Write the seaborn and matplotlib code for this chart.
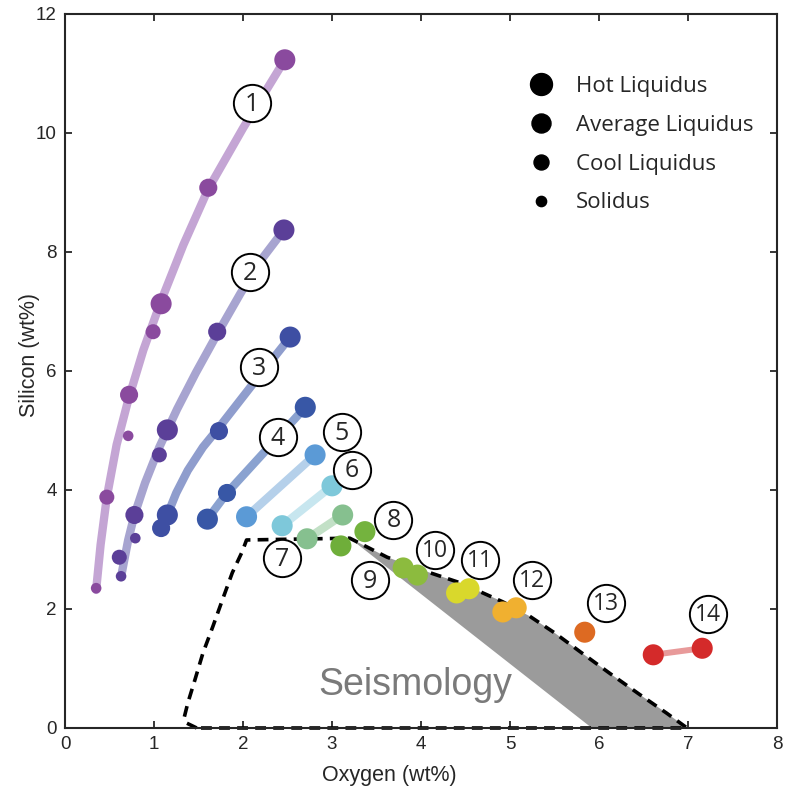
import numpy as np
import pandas as pd
import seaborn as sns
import matplotlib.pyplot as plt
from matplotlib.lines import Line2D

# ---- model curves (lines under the points) ----
line_comp = [1] * 11 + [2] * 11 + [3] * 7 + [4] * 3 + [5] * 2 + [6] * 2 + [7] * 2 + [14] * 2
line_o = [0.35, 0.40, 0.47, 0.58, 0.71, 0.88, 1.07, 1.33, 1.61, 2.00, 2.47,
          0.64, 0.71, 0.78, 0.90, 1.06, 1.26, 1.47, 1.71, 1.97, 2.19, 2.46,
          1.15, 1.25, 1.38, 1.55, 1.73, 2.10, 2.53,
          1.60, 1.82, 2.70,
          2.04, 2.81,
          2.44, 3.00,
          2.72, 3.12,
          6.61, 7.16]
line_si = [2.32, 3.08, 3.88, 4.76, 5.51, 6.35, 7.14, 8.12, 9.06, 10.08, 11.23,
           2.62, 3.16, 3.58, 4.12, 4.72, 5.36, 5.97, 6.62, 7.30, 7.84, 8.37,
           3.58, 3.95, 4.33, 4.72, 5.05, 5.76, 6.57,
           3.51, 3.95, 5.39,
           3.55, 4.59,
           3.40, 4.07,
           3.18, 3.58,
           1.23, 1.34]

# ---- data points ----
pt_comp = [1] * 8 + [2] * 8 + [3] * 4 + [4] * 3 + [5] * 2 + [6] * 2 + [7] * 2 + \
          [8, 9, 10, 10, 11, 11, 12, 12, 13, 14, 14]
pt_o = [2.47, 1.08, 1.61, 0.72, 0.99, 0.47, 0.71, 0.35,
        2.46, 1.15, 1.71, 0.78, 1.06, 0.61, 0.79, 0.63,
        2.53, 1.15, 1.73, 1.08,
        2.70, 1.60, 1.82,
        2.81, 2.04,
        3.00, 2.44,
        3.12, 2.72,
        3.37, 3.10, 3.80, 3.96, 4.40, 4.54, 4.92, 5.07, 5.84, 6.61, 7.16]
pt_si = [11.23, 7.13, 9.08, 5.60, 6.66, 3.88, 4.91, 2.35,
         8.37, 5.01, 6.66, 3.58, 4.59, 2.87, 3.19, 2.55,
         6.57, 3.58, 4.99, 3.36,
         5.39, 3.51, 3.95,
         4.59, 3.55,
         4.07, 3.40,
         3.58, 3.18,
         3.30, 3.06, 2.69, 2.57, 2.27, 2.34, 1.95, 2.02, 1.61, 1.23, 1.34]
pt_temp = ["Hot", "Hot", "Average", "Average", "Cool", "Cool", "Solidus", "Solidus",
           "Hot", "Hot", "Average", "Average", "Cool", "Cool", "Solidus", "Solidus",
           "Hot", "Hot", "Average", "Average",
           "Hot", "Hot", "Average",
           "Hot", "Hot",
           "Hot", "Hot",
           "Hot", "Hot",
           "Hot", "Hot", "Hot", "Hot", "Hot", "Hot", "Hot", "Hot", "Hot", "Hot", "Hot"]

marker_colors = {1: "#8a4a9e", 2: "#5b3f98", 3: "#3e4fa3", 4: "#3857a6", 5: "#5b9ad6",
                 6: "#7ec8da", 7: "#86c08f", 8: "#74b33e", 9: "#6fae3a", 10: "#8cbb3e",
                 11: "#d9d82c", 12: "#f0b030", 13: "#dd6a22", 14: "#d42a2a"}
line_colors = {1: "#c4a5d4", 2: "#a7a4d0", 3: "#8f9dcd", 4: "#8aa2d0", 5: "#b5d0ea",
               6: "#c7e6ef", 7: "#c2e0c6", 14: "#e89a9a"}
temp_sizes = {"Hot": 230, "Average": 170, "Cool": 117, "Solidus": 58}

# ---- seismology region ----
bound_o = [1.48, 1.37, 1.34, 1.38, 1.46, 1.55, 1.66, 1.78, 1.88, 1.99, 2.04, 3.20,
           3.62, 4.10, 4.44, 4.92, 5.22, 5.50, 5.79, 6.12, 6.46, 6.76, 6.99, 1.48]
bound_si = [0.0, 0.08, 0.18, 0.42, 0.81, 1.26, 1.70, 2.20, 2.61, 2.96, 3.16, 3.19,
            2.87, 2.61, 2.44, 2.12, 1.88, 1.60, 1.28, 0.92, 0.56, 0.25, 0.0, 0.0]
gray_o = [3.20, 3.62, 4.10, 4.44, 4.92, 5.22, 5.50, 5.79, 6.12, 6.46, 6.76, 6.99, 5.92]
gray_si = [3.19, 2.87, 2.61, 2.44, 2.12, 1.88, 1.60, 1.28, 0.92, 0.56, 0.25, 0.0, 0.0]

# ---- circled labels ----
label_txt = [str(i) for i in range(1, 15)]
label_o = [2.10, 2.08, 2.18, 2.39, 3.11, 3.22, 2.44, 3.69, 3.43, 4.16, 4.66, 5.25, 6.08, 7.22]
label_si = [10.50, 7.66, 6.07, 4.89, 4.97, 4.34, 2.86, 3.50, 2.49, 2.99, 2.82, 2.49, 2.10, 1.92]

legend_labels = ["Hot Liquidus", "Average Liquidus", "Cool Liquidus", "Solidus"]

sns.set_style("ticks")
plt.rcParams["font.family"] = ["Liberation Sans", "DejaVu Sans"]

fig = plt.figure(figsize=(7.86, 7.86), dpi=100)
ax = fig.add_axes([0.0827, 0.0738, 0.9058, 0.9084])

# seismology shading + dashed outline
ax.fill(gray_o, gray_si, color="#9b9b9b", lw=0, zorder=1)
ax.plot(bound_o, bound_si, color="black", lw=2.6, ls=(0, (3.0, 2.0)), zorder=2,
        clip_on=False)
ax.text(3.94, 0.72, "Seismology", fontsize=27, color="#7a7a7a", ha="center",
        va="center", zorder=2)

lines = pd.DataFrame({"O": line_o, "Si": line_si, "comp": line_comp})
for c, g in lines.groupby("comp"):
    lw = 4.3 if c == 14 else 6
    sns.lineplot(data=g, x="O", y="Si", sort=False, estimator=None, color=line_colors[c],
                 lw=lw, ax=ax, zorder=3, solid_capstyle="round")

pts = pd.DataFrame({"O": pt_o, "Si": pt_si, "comp": pt_comp, "temp": pt_temp})
sns.scatterplot(data=pts, x="O", y="Si", hue="comp", palette=marker_colors, size="temp",
                sizes=temp_sizes, linewidth=0, legend=False, ax=ax, zorder=4)

# circled numbers
ax.scatter(label_o, label_si, s=720, facecolor="white", edgecolor="black", lw=1.4, zorder=5)
for t, x, y in zip(label_txt, label_o, label_si):
    ax.text(x, y - 0.02, t, fontsize=18 if len(t) == 1 else 16.5, ha="center", va="center",
            family=["Open Sans", "DejaVu Sans"], zorder=6)

handles = [Line2D([], [], ls="none", marker="o", color="black", markersize=m)
           for m in [15.8, 13.7, 10.8, 7.4]]
ax.legend(handles, legend_labels, loc="upper left", bbox_to_anchor=(0.650, 0.913),
          frameon=False, borderpad=0, borderaxespad=0, handlelength=1.2,
          handletextpad=0.97, labelspacing=0.8,
          prop={"family": ["Open Sans", "DejaVu Sans"], "size": 16})

ax.set_xlim(0, 8)
ax.set_ylim(0, 12)
ax.set_xticks(range(0, 9))
ax.set_yticks(range(0, 13, 2))
ax.tick_params(direction="in", top=True, right=True, length=5, width=1.3,
               labelsize=13.5, pad=6)
for s in ax.spines.values():
    s.set_linewidth(1.5)
ax.set_xlabel("Oxygen (wt%)", fontsize=15.5)
ax.set_ylabel("Silicon (wt%)", fontsize=15.5)
ax.xaxis.set_label_coords(0.456, -0.052)
ax.yaxis.set_label_coords(-0.035, 0.522)

fig.savefig("out.png", dpi=100)
